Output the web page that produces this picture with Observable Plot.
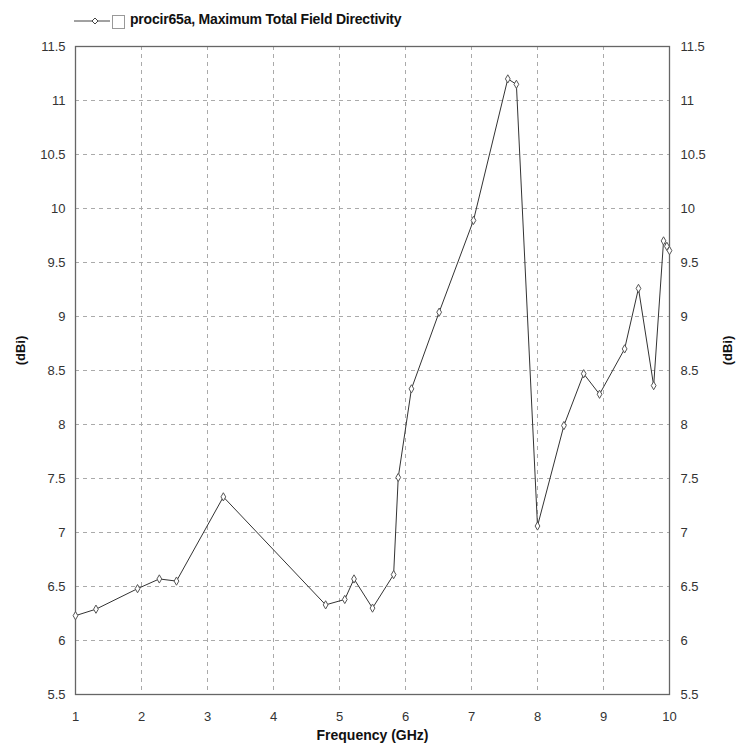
<!DOCTYPE html>
<html>
<head>
<meta charset="utf-8">
<script src="https://cdn.jsdelivr.net/npm/d3@7"></script>
<script src="https://cdn.jsdelivr.net/npm/@observablehq/plot@0.6"></script>
<style>
  body { margin: 0; background: #fff; font-family: "Liberation Sans Narrow", "Arial Narrow", "Liberation Sans", sans-serif; }
  #legend { position: relative; height: 30px; width: 743px; }
  #legend svg { position: absolute; left: 0; top: 0; }
  #legend .txt { position: absolute; left: 130px; top: 11px; font-weight: bold; font-size: 14px; color: #111; white-space: nowrap; letter-spacing: -0.2px; }
</style>
</head>
<body>
<div id="legend"></div>
<div id="chart"></div>
<script>
const seriesName = "procir65a, Maximum Total Field Directivity";
const freq = [1.00, 1.31, 1.94, 2.27, 2.53, 3.24, 4.79, 5.08, 5.22, 5.50, 5.82, 5.89, 6.09, 6.51, 7.03, 7.55, 7.68, 8.00, 8.40, 8.70, 8.94, 9.32, 9.53, 9.76, 9.91, 9.96, 10.00];
const directivity = [6.23, 6.29, 6.48, 6.57, 6.55, 7.33, 6.33, 6.38, 6.57, 6.30, 6.61, 7.51, 8.33, 9.04, 9.89, 11.20, 11.15, 7.06, 7.99, 8.47, 8.28, 8.70, 9.26, 8.36, 9.70, 9.65, 9.61];
const xTicks = [1, 2, 3, 4, 5, 6, 7, 8, 9, 10];
const yTicks = [5.5, 6, 6.5, 7, 7.5, 8, 8.5, 9, 9.5, 10, 10.5, 11, 11.5];
const xLabel = "Frequency (GHz)";
const yLabel = "(dBi)";

const data = freq.map((f, i) => ({f, d: directivity[i]}));
const fmt = d => String(+d.toFixed(1));

// Legend
const leg = document.getElementById("legend");
leg.innerHTML = `<svg width="743" height="30">
  <line x1="74" y1="21" x2="110" y2="21" stroke="#444" stroke-width="1"/>
  <path d="M95,18 L98,21 L95,24 L92,21 Z" fill="#fff" stroke="#444" stroke-width="1"/>
  <rect x="112.5" y="15.5" width="12" height="13" fill="#fff" stroke="#999" stroke-width="1"/>
</svg><div class="txt">${seriesName}</div>`;

const chart = Plot.plot({
  width: 743,
  height: 716,
  marginTop: 16,
  marginBottom: 52,
  marginLeft: 75,
  marginRight: 74,
  style: {fontFamily: '"Liberation Sans Narrow", "Arial Narrow", "Liberation Sans", sans-serif', fontSize: "13px", color: "#333", background: "#fff"},
  x: {domain: [1, 10]},
  y: {domain: [5.5, 11.5]},
  marks: [
    Plot.gridX(xTicks.slice(1, -1), {stroke: "#aaa", strokeOpacity: 1, strokeDasharray: "4,4"}),
    Plot.gridY(yTicks.slice(1, -1), {stroke: "#aaa", strokeOpacity: 1, strokeDasharray: "4,4"}),
    Plot.frame({stroke: "#666", strokeWidth: 1.3}),
    Plot.axisX(xTicks, {tickSize: 0, tickPadding: 17, tickFormat: fmt, label: null, fontSize: 13}),
    Plot.axisY(yTicks, {anchor: "left", tickSize: 0, tickPadding: 10, tickFormat: fmt, label: null, fontSize: 13}),
    Plot.axisY(yTicks, {anchor: "right", tickSize: 0, tickPadding: 11, tickFormat: fmt, label: null, fontSize: 13}),
    Plot.line(data, {x: "f", y: "d", stroke: "#333", strokeWidth: 1}),
    Plot.dot(data, {x: "f", y: "d", symbol: "diamond", r: 2.5, fill: "#fff", stroke: "#555", strokeWidth: 1}),
    Plot.text([xLabel], {frameAnchor: "bottom", dy: 45, fontWeight: "bold", fontSize: 14, fill: "#111"}),
    Plot.text([yLabel], {frameAnchor: "left", textAnchor: "middle", dx: -55, dy: -20, rotate: -90, fontWeight: "bold", fontSize: 13, fill: "#111"}),
    Plot.text([yLabel], {frameAnchor: "right", textAnchor: "middle", dx: 58, dy: -20, rotate: -90, fontWeight: "bold", fontSize: 13, fill: "#111"})
  ]
});
document.getElementById("chart").appendChild(chart);
</script>
</body>
</html>
